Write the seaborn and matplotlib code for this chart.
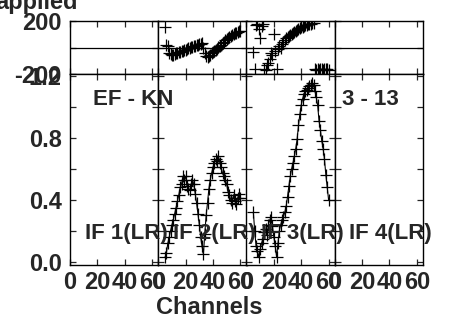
import matplotlib
matplotlib.use("Agg")
import matplotlib.pyplot as plt
import numpy as np
import seaborn as sns

# channel numbers that carry data (IF 2 and IF 3); IF 1 and IF 4 are empty
channels = list(range(5, 61))

if2_amp = [0.03, 0.06, 0.12, 0.16, 0.20, 0.24, 0.27, 0.31, 0.35, 0.39,
           0.43, 0.48, 0.50, 0.55, 0.53, 0.55, 0.49, 0.47, 0.46, 0.50,
           0.53, 0.50, 0.44, 0.38, 0.31, 0.24, 0.16, 0.10, 0.05, 0.18,
           0.30, 0.38, 0.47, 0.53, 0.57, 0.61, 0.64, 0.66, 0.65, 0.68,
           0.64, 0.61, 0.57, 0.55, 0.53, 0.50, 0.45, 0.43, 0.40, 0.38,
           0.43, 0.39, 0.37, 0.41, 0.44, 0.41]
if2_phase = [157, 22, 10, -40, -50, -55, -57, -50, -45, -40,
             -36, -35, -30, -26, -22, -18, -12, -6, -4, 2,
             6, 8, 12, 16, 19, 25, 30, 32, -6, -45,
             -65, -69, -62, -57, -45, -35, -25, -19, -10, 5,
             15, 22, 35, 45, 55, 62, 70, 78, 85, 92,
             100, 106, 112, 116, 122, 128]

if3_amp = [0.32, 0.20, 0.10, 0.07, 0.03, 0.08, 0.12, 0.15, 0.19, 0.21,
           0.17, 0.24, 0.27, 0.29, 0.23, 0.16, 0.10, 0.03, 0.12, 0.20,
           0.24, 0.27, 0.29, 0.32, 0.36, 0.42, 0.49, 0.55, 0.60, 0.64,
           0.68, 0.73, 0.79, 0.88, 0.95, 1.01, 1.05, 1.08, 1.10, 1.11,
           1.12, 1.13, 1.14, 1.15, 1.14, 1.10, 1.06, 1.01, 0.91, 0.85,
           0.78, 0.73, 0.66, 0.56, 0.48, 0.40]
if3_phase = [-32, -160, 170, 180, 140, 75, 165, 175, -165, -170,
             -135, -120, -85, -45, -60, 105, -30, -165, -8, 10,
             -5, 30, 45, 55, 68, 78, 88, 98, 105, 112,
             120, 128, 133, 140, 147, 152, 157, 163, 167, 172,
             175, 178, 180, 183, 185, -160, -167, -163, -170, -165,
             -162, -168, -164, -166, -160, -167]

if_labels = ["IF 1(LR)", "IF 2(LR)", "IF 3(LR)", "IF 4(LR)"]
amp_data = [None, if2_amp, if3_amp, None]
phase_data = [None, if2_phase, if3_phase, None]

sns.set_style("ticks")
plt.rcParams["font.family"] = ["Liberation Sans", "DejaVu Sans"]
plt.rcParams["font.weight"] = "bold"
fs = 16
fs_tick = 17

W, H = 454, 322
fig = plt.figure(figsize=(W / 100, H / 100), dpi=100)

left, pw = 70, 88.25
for i in range(4):
    x0 = (left + i * pw) / W
    axp = fig.add_axes([x0, 1 - 74 / H, pw / W, 53 / H])
    axa = fig.add_axes([x0, 1 - 265 / H, pw / W, 191 / H])

    if phase_data[i] is not None:
        sns.scatterplot(x=channels, y=phase_data[i], ax=axp, marker="+",
                        color="black", s=70, linewidth=0.9, legend=False)
        sns.lineplot(x=channels, y=amp_data[i], ax=axa, color="black",
                     linewidth=0.8, marker="+", markersize=9,
                     markeredgewidth=0.9, markeredgecolor="black")
    axp.axhline(0, color="black", linewidth=0.9)

    axp.set_xlim(0, 64.5)
    axa.set_xlim(0, 64.5)
    axp.set_ylim(-200, 200)
    axa.set_ylim(-0.02, 1.21)

    axp.set_xticks([0, 20, 40, 60])
    axa.set_xticks([0, 20, 40, 60])
    axp.set_yticks([-200, 0, 200])
    axa.set_yticks(np.arange(0, 1.3, 0.2))

    for ax in (axp, axa):
        ax.tick_params(direction="in", length=4, width=0.9, top=True,
                       right=True, labelsize=fs_tick, pad=6)
        for s in ax.spines.values():
            s.set_linewidth(1.0)
            s.set_color("black")
        ax.set_xlabel("")
        ax.set_ylabel("")

    axp.set_xticklabels([])
    axa.set_xticklabels(["0", "20", "40", "60"], fontweight="bold")
    axa.tick_params(axis="x", pad=4)
    if i == 0:
        axp.set_yticklabels(["-200", "", "200"], fontweight="bold")
        axa.set_yticklabels(["0.0", "", "0.4", "", "0.8", "", "1.2"],
                            fontweight="bold")
    else:
        axp.set_yticklabels([])
        axa.set_yticklabels([])

    fig.text((left + i * pw + 56) / W, 1 - 233 / H, if_labels[i],
             ha="center", va="center", fontsize=fs, fontweight="bold")

fig.text(93 / W, 1 - 100 / H, "EF - KN", ha="left", va="center",
         fontsize=fs, fontweight="bold")
fig.text(342 / W, 1 - 100 / H, "3 - 13", ha="left", va="center",
         fontsize=fs, fontweight="bold")
fig.text(209 / W, 1 - 307 / H, "Channels", ha="center", va="center",
         fontsize=fs_tick, fontweight="bold")
fig.text(78 / W, 1 - 9 / H, "applied", ha="right", va="baseline",
         fontsize=fs_tick, fontweight="bold")

fig.savefig("out.png", dpi=100)
